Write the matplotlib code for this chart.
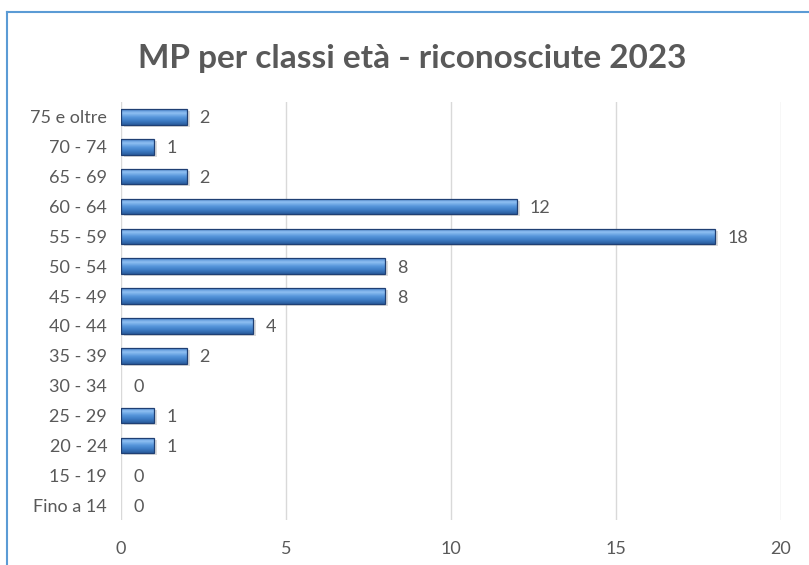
import numpy as np
import matplotlib.pyplot as plt
from matplotlib.colors import LinearSegmentedColormap
from matplotlib.lines import Line2D

# data, bottom to top as drawn
categories = ["Fino a 14", "15 - 19", "20 - 24", "25 - 29", "30 - 34", "35 - 39",
              "40 - 44", "45 - 49", "50 - 54", "55 - 59", "60 - 64", "65 - 69",
              "70 - 74", "75 e oltre"]
values = [0, 0, 1, 1, 0, 2, 4, 8, 8, 18, 12, 2, 1, 2]
x_ticks = [0, 5, 10, 15, 20]
title = "MP per classi età - riconosciute 2023"

plt.rcParams["font.family"] = ["Lato", "DejaVu Sans"]
text_col = "#595959"

fig = plt.figure(figsize=(8.09, 5.65), dpi=100)
ax = fig.add_axes([0.1496, 0.0796, 0.8158, 0.7399])

y = np.arange(len(categories))
bars = ax.barh(y, values, height=0.52, color="#4a86cf", linewidth=0, zorder=3)

# vertical gradient inside each bar (light top, darker bottom)
cmap = LinearSegmentedColormap.from_list(
    "bar", ["#2a5c9c", "#3d7bc4", "#5897dc", "#8fc0f2", "#4a86cf"])
grad = np.linspace(0, 1, 64).reshape(-1, 1)
for b, v in zip(bars, values):
    if v <= 0:
        continue
    x0, y0 = b.get_x(), b.get_y()
    w, h = b.get_width(), b.get_height()
    # soft shadow under the bar
    ax.barh(y0 + h / 2 - 0.07, w, height=h, left=x0 + 0.08, color="#9a9a9a",
            alpha=0.35, linewidth=0, zorder=2)
    im = ax.imshow(grad, cmap=cmap, aspect="auto", origin="lower",
                   extent=[x0, x0 + w, y0, y0 + h], zorder=3.5)
    im.set_clip_path(b)
    ax.barh(y0 + h / 2, w, height=h, left=x0, facecolor="none",
            edgecolor="#1f3f73", linewidth=0.9, zorder=4)

for yi, v in zip(y, values):
    ax.annotate(str(v), (v, yi), xytext=(9, 0), textcoords="offset points",
                va="center_baseline", ha="left", fontsize=13, color=text_col)

ax.set_xlim(0, 20)
ax.set_ylim(-0.5, len(categories) - 0.5)
ax.set_xticks(x_ticks)
ax.set_yticks(y)
ax.set_yticklabels(categories)
ax.tick_params(axis="both", length=0, labelsize=13, colors=text_col)
ax.tick_params(axis="y", pad=10)
ax.tick_params(axis="x", pad=15)
ax.grid(axis="x", color="#d9d9d9", linewidth=1, zorder=0)
for s in ax.spines.values():
    s.set_visible(False)
ax.set_axisbelow(True)

fig.text(0.51, 0.897, title, ha="center", va="center", fontsize=24,
         fontweight="bold", color=text_col)

# chart frame (left and top edges visible in the crop)
fx = 7 / 809
fy = 1 - 12 / 565
fig.add_artist(Line2D([fx, fx], [0, fy], color="#5b9bd5", linewidth=1.5,
                      transform=fig.transFigure))
fig.add_artist(Line2D([fx, 1], [fy, fy], color="#5b9bd5", linewidth=1.5,
                      transform=fig.transFigure))

fig.savefig("out.png", dpi=100)
